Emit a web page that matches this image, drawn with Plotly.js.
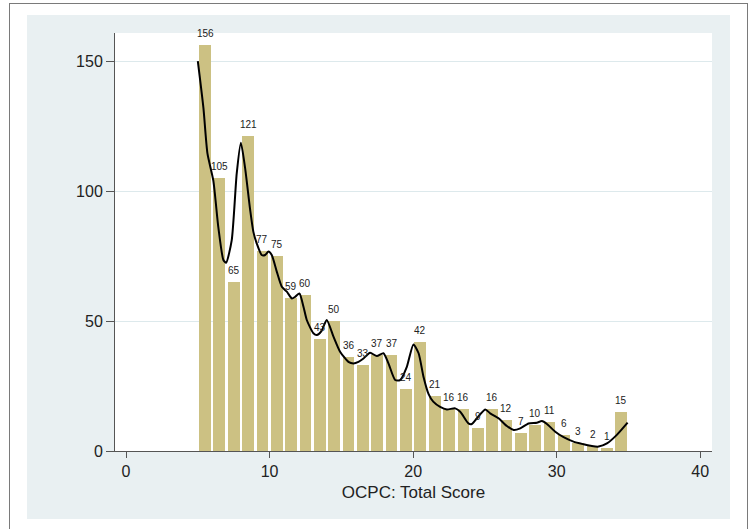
<!DOCTYPE html>
<html>
<head>
<meta charset="utf-8">
<script src="https://cdn.plot.ly/plotly-3.0.1.min.js"></script>
<style>
  html, body { margin: 0; padding: 0; background: #ffffff; width: 752px; height: 529px; overflow: hidden; }
  #frame { position: absolute; left: 9px; top: 3px; width: 739px; height: 560px; border: 1.5px solid #7a7a7a; box-sizing: border-box; }
  #chart { position: absolute; left: 27px; top: 15px; width: 703px; height: 504px; }
</style>
</head>
<body>
<div id="frame"></div>
<div id="chart"></div>
<script>
// Histogram: OCPC total score (bin start) and frequency
const scores = [5,6,7,8,9,10,11,12,13,14,15,16,17,18,19,20,21,22,23,24,25,26,27,28,29,30,31,32,33,34];
const counts = [156,105,65,121,77,75,59,60,43,50,36,33,37,37,24,42,21,16,16,9,16,12,7,10,11,6,3,2,1,15];

// Smoothed curve
const curveX = [5.0,5.39,5.67,6.08,6.43,6.78,6.97,7.36,7.71,8.0,8.29,8.64,8.87,9.1,9.45,9.69,9.92,10.15,10.5,10.85,11.2,11.55,11.78,12.08,12.36,12.59,13.05,13.29,13.6,13.98,14.45,14.91,15.49,15.84,16.19,16.54,17.0,17.47,17.93,18.28,18.75,19.09,19.56,20.02,20.38,20.72,21.07,21.4,21.88,22.35,22.93,23.28,23.85,24.09,24.44,25.02,25.37,25.95,26.53,27.0,27.46,28.04,28.62,28.97,29.32,29.9,30.48,31.17,31.87,32.45,32.92,33.5,34.19,34.94];
const curveY = [150,132,114.5,104,86,73.5,72.4,81,106.8,118.6,109,93,84.3,79.9,75.4,75.4,76.7,75.4,69,63.2,61.3,58.7,59.3,60.6,55.5,50.4,45.3,44.6,46,50.4,44,38.2,34.3,33.7,34.3,35.6,37.8,36.5,37.6,33.7,27.3,27.3,32.4,41,37.6,28.6,22,19,17,16,16.4,15.1,10.6,10.4,12.6,16,14.5,12.6,9.6,8.1,8.7,10.6,10.9,11.5,10.4,7.4,5.3,3.6,2.6,1.9,1.7,2.9,6.2,10.9];

const xTicks = [0,10,20,30,40];
const yTicks = [0,50,100,150];
const xTitle = 'OCPC: Total Score';

const barCenters = scores.map(s => s + 0.5);

const bars = {
  type: 'bar',
  x: barCenters,
  y: counts,
  width: 0.82,
  marker: { color: '#ccc183', line: { width: 0 } },
  hoverinfo: 'x+y',
  showlegend: false
};

const curve = {
  type: 'scatter',
  mode: 'lines',
  x: curveX,
  y: curveY,
  line: { color: '#000000', width: 2, shape: 'spline', smoothing: 0.6 },
  showlegend: false,
  hoverinfo: 'skip'
};

const labels = barCenters.map((x, i) => ({
  x: x, y: counts[i], xref: 'x', yref: 'y',
  text: String(counts[i]),
  showarrow: false,
  yanchor: 'bottom',
  yshift: 4,
  font: { family: 'Liberation Sans, Arial, sans-serif', size: 10, color: '#222222' }
}));

const layout = {
  width: 703,
  height: 504,
  margin: { l: 88, r: 18, t: 18, b: 68 },
  paper_bgcolor: '#e9f0f2',
  plot_bgcolor: '#ffffff',
  font: { family: 'Liberation Sans, Arial, sans-serif', color: '#222222', size: 16 },
  bargap: 0,
  xaxis: {
    range: [-0.77, 40.82],
    tickvals: xTicks,
    ticktext: xTicks.map(String),
    ticks: 'outside',
    ticklen: 6,
    tickcolor: '#555555',
    tickwidth: 1,
    showgrid: false,
    zeroline: false,
    showline: true,
    linecolor: '#555555',
    linewidth: 1,
    tickfont: { size: 16, color: '#222222' },
    title: { text: xTitle, font: { size: 17, color: '#222222' }, standoff: 6 },
    automargin: false,
    fixedrange: true
  },
  yaxis: {
    range: [0, 160.8],
    tickvals: yTicks,
    ticktext: yTicks.map(String),
    ticks: 'outside',
    ticklen: 8,
    tickcolor: '#555555',
    tickwidth: 1,
    showgrid: true,
    gridcolor: '#dde9ec',
    gridwidth: 1,
    zeroline: false,
    showline: true,
    linecolor: '#555555',
    linewidth: 1,
    tickfont: { size: 16, color: '#222222' },
    automargin: false,
    fixedrange: true
  },
  annotations: labels
};

Plotly.newPlot('chart', [bars, curve], layout, { displayModeBar: false, staticPlot: true });
</script>
</body>
</html>
